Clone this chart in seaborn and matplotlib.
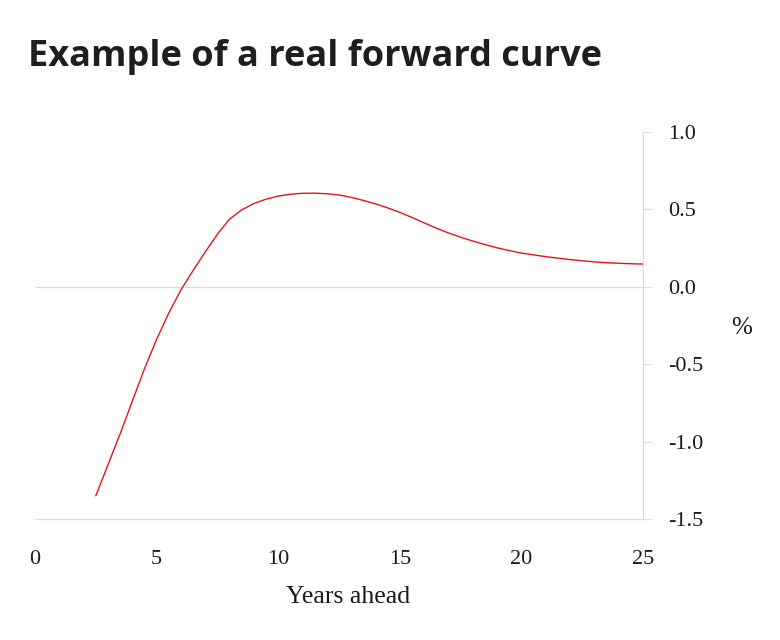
import numpy as np
import pandas as pd
import matplotlib
matplotlib.use('Agg')
import matplotlib.pyplot as plt
import seaborn as sns

# real forward curve (years ahead, %)
years = [2.5, 3, 3.5, 4, 4.5, 5, 5.5, 6, 6.5, 7, 7.5, 8, 8.5, 9, 9.5, 10, 10.5, 11, 11.5, 12,
         12.5, 13, 13.5, 14, 14.5, 15, 15.5, 16, 16.5, 17, 17.5, 18, 18.5, 19, 19.5, 20,
         20.5, 21, 21.5, 22, 22.5, 23, 23.5, 24, 24.5, 25]
rate = [-1.35, -1.15, -0.95, -0.74, -0.53, -0.34, -0.17, -0.02, 0.105, 0.225, 0.34, 0.437,
        0.497, 0.538, 0.566, 0.586, 0.598, 0.604, 0.605, 0.601, 0.593, 0.578, 0.558, 0.536,
        0.51, 0.481, 0.448, 0.413, 0.379, 0.348, 0.32, 0.296, 0.273, 0.252, 0.234, 0.218,
        0.206, 0.195, 0.185, 0.176, 0.168, 0.161, 0.156, 0.152, 0.149, 0.147]
xticks = [0, 5, 10, 15, 20, 25]
yticks = [-1.5, -1.0, -0.5, 0.0, 0.5, 1.0]

df = pd.DataFrame({'years': years, 'rate': rate})

sns.set_style('white')
serif = ['Liberation Serif', 'DejaVu Serif']
grey = '#dcdcdc'
ink = '#1a1a1a'

fig = plt.figure(figsize=(7.8, 6.4), dpi=100)
ax = fig.add_axes([35 / 780, 1 - 519 / 640, 608 / 780, 387 / 640])

ax.axhline(0, color=grey, lw=0.9, zorder=1)
sns.lineplot(data=df, x='years', y='rate', color='#e3151a', lw=1.0, ax=ax, zorder=3)

ax.set_xlim(0, 25)
ax.set_ylim(-1.5, 1.0)
ax.set_xticks(xticks)
ax.set_yticks(yticks)
ax.set_xticklabels([str(t) for t in xticks], family=serif, fontsize=16)
ax.set_yticklabels([f'{t:.1f}' for t in yticks], family=serif, fontsize=16)

ax.yaxis.tick_right()
for s in ['top', 'left']:
    ax.spines[s].set_visible(False)
for s in ['bottom', 'right']:
    ax.spines[s].set_color(grey)
    ax.spines[s].set_linewidth(0.9)
ax.tick_params(axis='x', direction='in', length=8, width=0.9, color=grey, pad=22, labelcolor=ink)
ax.tick_params(axis='y', direction='out', length=6, width=0.9, color=grey, pad=12, labelcolor=ink)

ax.set_xlabel('Years ahead', family=serif, fontsize=18.5, color=ink)
ax.xaxis.set_label_coords((348 - 35) / 608, (519 - 586) / 387)
ax.set_ylabel('')
fig.text(742 / 780, 1 - 328 / 640, '%', family=serif, fontsize=18, color=ink, ha='center', va='center')

fig.text(28 / 780, 1 - 57 / 640, 'Example of a real forward curve', family=['Open Sans', 'DejaVu Sans'],
         fontweight='bold', fontsize=26, color='#1e1e1e', ha='left', va='center')

fig.savefig('out.png', dpi=100)
